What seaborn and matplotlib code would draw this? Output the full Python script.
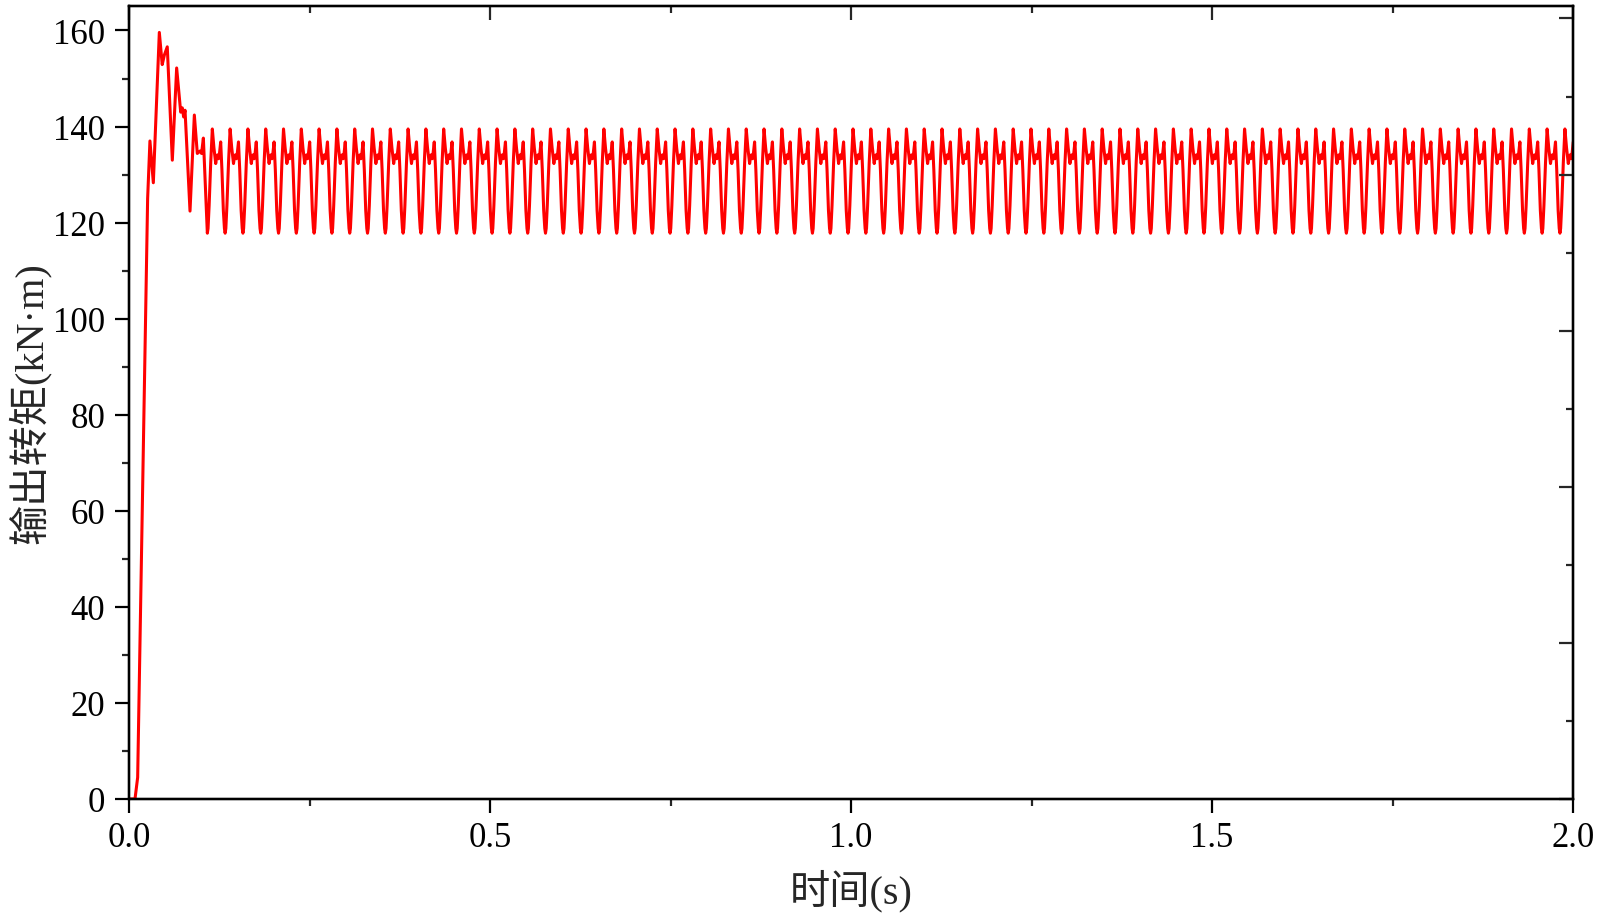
import numpy as np
import pandas as pd
import matplotlib
matplotlib.use("Agg")
import matplotlib.pyplot as plt
import seaborn as sns
from matplotlib.ticker import MultipleLocator

# -------------------------------------------------------------------
# Data
# -------------------------------------------------------------------
# start-up transient: time (s) and output torque (kN·m)
t_start = [0.0, 0.0083, 0.012, 0.0258, 0.029, 0.0337, 0.042, 0.046, 0.049,
           0.053, 0.060, 0.066, 0.0716, 0.0738, 0.0757, 0.0776, 0.0845,
           0.0905, 0.0946, 0.0983, 0.1005, 0.103]
v_start = [0.0, 0.0, 4.5, 125.0, 137.0, 128.3, 159.6, 152.9, 154.9,
           156.6, 133.0, 152.2, 143.0, 143.9, 142.0, 143.4, 122.4,
           142.4, 134.4, 134.9, 134.4, 137.6]

# steady state: one ripple cycle (phase within a period, torque)
first_trough = 0.1085
period = 0.02465
cycle_phase = [0.00, 0.04, 0.10, 0.19, 0.28, 0.37, 0.47, 0.53, 0.57,
               0.63, 0.66, 0.75, 0.82, 0.90, 0.96]
cycle_torque = [117.8, 118.8, 123.5, 132.5, 139.5, 135.6, 132.3, 133.8, 134.1,
                133.3, 133.6, 136.8, 131.0, 122.5, 118.8]
n_cycles = 78

x_ticks = [0.0, 0.5, 1.0, 1.5, 2.0]
y_ticks = [0, 20, 40, 60, 80, 100, 120, 140, 160]

# -------------------------------------------------------------------
# Build the series: transient followed by the repeated ripple cycle
# -------------------------------------------------------------------
cyc_idx = np.repeat(np.arange(n_cycles), len(cycle_phase))
t_steady = first_trough + (cyc_idx + np.tile(cycle_phase, n_cycles)) * period
v_steady = np.tile(cycle_torque, n_cycles)

df = pd.DataFrame({
    "t": np.concatenate([t_start, t_steady]),
    "torque": np.concatenate([v_start, v_steady]),
})
df = df[df["t"] <= 2.03]

# -------------------------------------------------------------------
# Plot
# -------------------------------------------------------------------
sns.set_style("ticks")
plt.rcParams["font.family"] = ["Liberation Serif", "Noto Sans CJK SC"]
plt.rcParams["axes.linewidth"] = 1.6

fig = plt.figure(figsize=(16, 9.2), dpi=100)
ax = fig.add_axes([129 / 1600, 1 - 800 / 920, 1444 / 1600, 793 / 920])

sns.lineplot(data=df, x="t", y="torque", ax=ax, color="#ff0000",
             linewidth=2.2, estimator=None, sort=False)

ax.set_xlim(0, 2.0)
ax.set_ylim(0, 165.1)
ax.set_xticks(x_ticks)
ax.set_yticks(y_ticks)
ax.xaxis.set_minor_locator(MultipleLocator(0.25))
ax.yaxis.set_minor_locator(MultipleLocator(10))
ax.tick_params(which="major", direction="out", length=10, width=1.6,
               labelsize=25, pad=6, colors="black")
ax.tick_params(which="minor", direction="out", length=5, width=1.6)
ax.tick_params(axis="y", pad=7)

ax.set_xlabel("时间(s)", fontsize=29)
ax.set_ylabel("输出转矩(kN·m)", fontsize=29)
ax.xaxis.set_label_coords(0.5, -0.088)
ax.yaxis.set_label_coords(-0.054, 0.5)

# top axis: inward ticks, no labels
ax_top = ax.twiny()
ax_top.set_xlim(0, 2.0)
ax_top.xaxis.set_major_locator(MultipleLocator(0.5))
ax_top.xaxis.set_minor_locator(MultipleLocator(0.25))
ax_top.tick_params(which="major", direction="in", length=10, width=1.6, labeltop=False)
ax_top.tick_params(which="minor", direction="in", length=5, width=1.6)

# right axis: inward ticks on its own scale, no labels
ax_right = ax.twinx()
ax_right.set_ylim(0, 5.08)
ax_right.yaxis.set_major_locator(MultipleLocator(1))
ax_right.yaxis.set_minor_locator(MultipleLocator(0.5))
ax_right.tick_params(which="major", direction="in", length=10, width=1.6, labelright=False)
ax_right.tick_params(which="minor", direction="in", length=5, width=1.6)

for a in (ax, ax_top, ax_right):
    for s in a.spines.values():
        s.set_linewidth(1.6)
        s.set_color("black")

fig.savefig("out.png", dpi=100, facecolor="white")
